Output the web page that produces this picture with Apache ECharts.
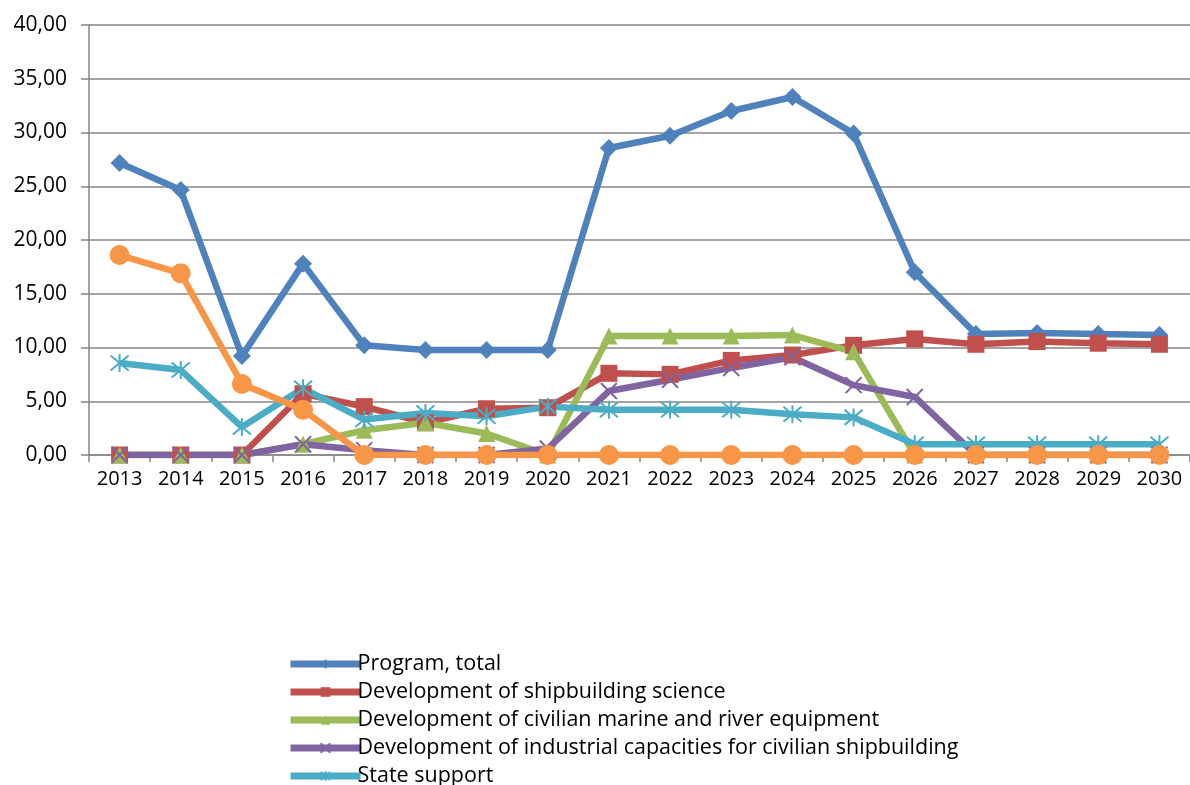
<!DOCTYPE html>
<html><head><meta charset="utf-8">
<script src="https://cdn.jsdelivr.net/npm/echarts@6/dist/echarts.min.js"></script>
<style>html,body{margin:0;padding:0;background:#fff}#c{width:1190px;height:785px}</style>
</head><body><div id="c"></div>
<script>
const years = ['2013','2014','2015','2016','2017','2018','2019','2020','2021','2022','2023','2024','2025','2026','2027','2028','2029','2030'];
const yTicks = [0,5,10,15,20,25,30,35,40];
const programTotal = [27.16,24.65,9.2,17.8,10.2,9.77,9.77,9.77,28.56,29.7,32.0,33.3,29.9,17.0,11.26,11.35,11.26,11.16];
const shipScience = [0,0,0,5.7,4.5,3.0,4.3,4.4,7.6,7.5,8.8,9.3,10.2,10.8,10.3,10.55,10.4,10.3];
const civilEquip = [0,0,0,1.0,2.3,3.0,2.0,0,11.07,11.07,11.07,11.16,9.6,0,0,0,0,0];
const industrialCap = [0,0,0,1.0,0.45,0,0,0.6,5.95,7.0,8.1,9.1,6.5,5.4,0,0,0,0];
const stateSupport = [8.56,7.9,2.6,6.2,3.3,3.9,3.6,4.5,4.2,4.2,4.2,3.8,3.5,1.0,1.0,1.0,1.0,1.0];
const otherSeries = [18.6,16.9,6.6,4.2,0,0,0,0,0,0,0,0,0,0,0,0,0,0];
const names = ['Program, total','Development of shipbuilding science','Development of civilian marine and river equipment','Development of industrial capacities for civilian shipbuilding','State support'];

const FONT = '"Open Sans", "Liberation Sans", sans-serif';
const xPath = 'path://M0,0L10,10M10,0L0,10';
const starPath = 'path://M0,0L10,10M10,0L0,10M5,-1L5,11';
function ser(name, data, color, symbol, size, stroke) {
  const s = {
    name, type: 'line', data, symbol, symbolSize: size,
    lineStyle: {color, width: 6.5},
    itemStyle: {color},
    emphasis: {disabled: true},
    animation: false
  };
  if (stroke) { s.itemStyle = {color: 'none', borderColor: color, borderWidth: 2}; }
  return s;
}
const chart = echarts.init(document.getElementById('c'));
chart.setOption({
  backgroundColor: '#fff',
  grid: {left: 89, top: 25, width: 1104, bottom: 330},
  legend: {
    data: names, orient: 'vertical', left: 282, top: 648, height: 400,
    itemWidth: 70, itemHeight: 12, itemGap: 6,
    lineStyle: {width: 7},
    textStyle: {fontFamily: FONT, fontSize: 21.5, color: '#000', padding: [0,0,0,-8]}
  },
  xAxis: {
    type: 'category', data: years, boundaryGap: true,
    axisLine: {lineStyle: {color: '#868686', width: 1.5}},
    axisTick: {show: true, length: 7, lineStyle: {color: '#868686', width: 1.5}},
    axisLabel: {fontFamily: FONT, fontSize: 20, color: '#000', margin: 14}
  },
  yAxis: {
    type: 'value', min: yTicks[0], max: yTicks[yTicks.length-1], interval: 5,
    axisLine: {show: true, lineStyle: {color: '#868686', width: 1.5}},
    axisTick: {show: true, length: 8, lineStyle: {color: '#868686', width: 1.5}},
    splitLine: {lineStyle: {color: '#868686', width: 1.5}},
    axisLabel: {fontFamily: FONT, fontSize: 21, color: '#000', margin: 22,
      formatter: v => v.toFixed(2).replace('.', ',')}
  },
  series: [
    ser(names[0], programTotal, '#4F81BD', 'diamond', 18),
    ser(names[1], shipScience, '#C0504D', 'rect', 17),
    ser(names[2], civilEquip, '#9BBB59', 'triangle', 17),
    ser(names[3], industrialCap, '#8064A2', xPath, 16, true),
    ser(names[4], stateSupport, '#4BACC6', starPath, 18, true),
    ser('Other', otherSeries, '#F79646', 'circle', 20)
  ]
});
</script></body></html>
